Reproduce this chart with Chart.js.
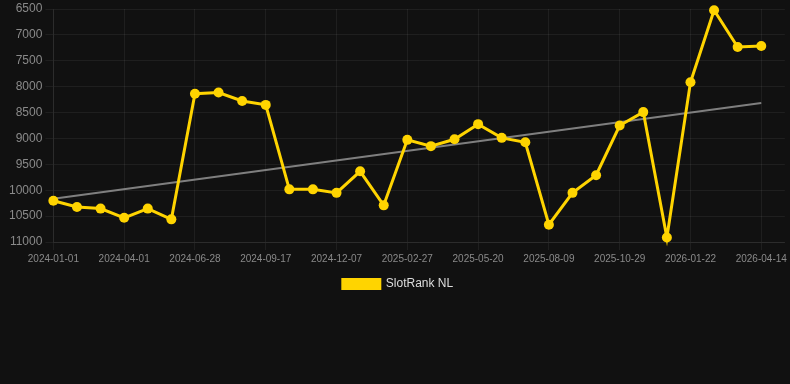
<!DOCTYPE html>
<html>
<head>
<meta charset="utf-8">
<script src="https://cdn.jsdelivr.net/npm/chart.js@4"></script>
<style>
  html, body { margin: 0; padding: 0; background: #111111; }
  #wrap { width: 790px; height: 300px; position: relative; }
</style>
</head>
<body>
<div id="wrap"><canvas id="rankChart"></canvas></div>
<script>
// Dates shown under the x axis (one every third sample)
const tickDates = [
  '2024-01-01', '2024-04-01', '2024-06-28', '2024-09-17', '2024-12-07',
  '2025-02-27', '2025-05-20', '2025-08-09', '2025-10-29', '2026-01-22', '2026-04-14'
];

// SlotRank NL rank per sample
const rankValues = [
  10203, 10324, 10355, 10533, 10355, 10563, 8136, 8112, 8277, 8352,
  9983, 9983, 10051, 9634, 10292, 9027, 9149, 9016, 8724, 8989,
  9073, 10666, 10051, 9710, 8751, 8491, 10912, 7916, 6525, 7234, 7215
];

// Trend line, first and last sample
const trendValues = [10165, 8314];

const yTicks = [6500, 11000, 500]; // min, max, step

const gridColor = 'rgba(255, 255, 255, 0.06)';
const textColor = '#8a8a8a';
const lineColor = '#ffd400';

const rankPoints = rankValues.map((v, i) => ({ x: i, y: v }));
const trendPoints = [
  { x: 0, y: trendValues[0] },
  { x: rankValues.length - 1, y: trendValues[1] }
];

const ctx = document.getElementById('rankChart').getContext('2d');

new Chart(ctx, {
  type: 'line',
  data: {
    datasets: [{
      label: 'SlotRank NL',
      data: rankPoints,
      borderColor: lineColor,
      backgroundColor: lineColor,
      borderWidth: 3,
      pointRadius: 5,
      pointBackgroundColor: lineColor,
      pointBorderColor: lineColor,
      pointBorderWidth: 0,
      tension: 0,
      clip: false
    }, {
      label: 'Trend',
      data: trendPoints,
      borderColor: 'rgba(140, 140, 140, 0.9)',
      borderWidth: 2,
      pointRadius: 0,
      tension: 0
    }]
  },
  options: {
    responsive: true,
    maintainAspectRatio: false,
    animation: false,
    layout: {
      padding: { left: 6 }
    },
    scales: {
      x: {
        type: 'linear',
        min: 0,
        max: 31,
        grid: { color: gridColor },
        border: { color: gridColor },
        ticks: {
          stepSize: 3,
          includeBounds: false,
          maxRotation: 0,
          color: textColor,
          font: { size: 10 },
          callback: (value) => tickDates[value / 3] ?? ''
        }
      },
      y: {
        reverse: true,
        min: yTicks[0],
        max: yTicks[1],
        grid: { color: gridColor },
        border: { color: gridColor },
        ticks: {
          stepSize: yTicks[2],
          color: textColor,
          font: { size: 12, lineHeight: 1 },
          callback: (value) => String(value)
        }
      }
    },
    plugins: {
      tooltip: { enabled: false },
      legend: {
        position: 'bottom',
        labels: {
          color: '#dddddd',
          font: { size: 12 },
          boxWidth: 37,
          boxHeight: 9,
          filter: (item) => item.datasetIndex === 0
        }
      }
    }
  }
});
</script>
</body>
</html>
